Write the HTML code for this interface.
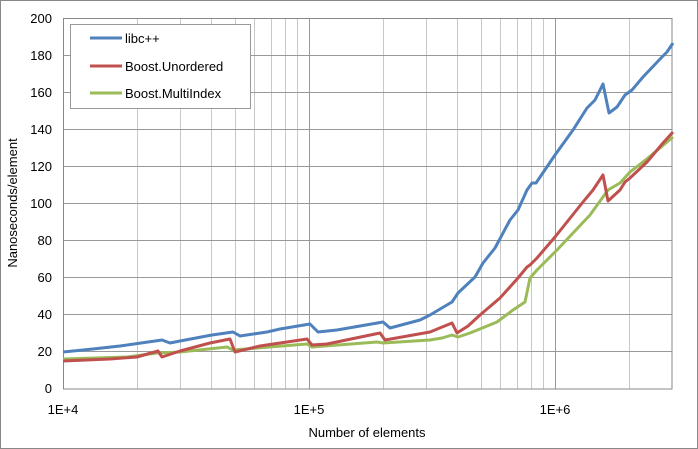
<!DOCTYPE html><html><head><style>body{margin:0;background:#fff}svg{display:block}text{font-family:"Liberation Sans",sans-serif;font-size:13px;fill:#000}</style></head><body>
<svg width="698" height="449" xmlns="http://www.w3.org/2000/svg">
<rect x="0.5" y="0.5" width="697" height="448" fill="#fff" stroke="#888"/>
<g stroke="#c8c8c8" stroke-width="1">
<path d="M137.5 18V389M180.5 18V389M211.5 18V389M235.5 18V389M254.5 18V389M271.5 18V389M285.5 18V389M297.5 18V389M383.5 18V389M426.5 18V389M457.5 18V389M481.5 18V389M500.5 18V389M517.5 18V389M531.5 18V389M543.5 18V389M629.5 18V389"/>
</g>
<g stroke="#999" stroke-width="1">
<path d="M309.5 18V389M555.5 18V389"/>
<path d="M63 18.5H672M63 55.5H672M63 92.5H672M63 129.5H672M63 166.5H672M63 203.5H672M63 240.5H672M63 277.5H672M63 314.5H672M63 351.5H672"/>
<rect x="63.5" y="18.5" width="608.5" height="370.5" fill="none" stroke="#888"/>
</g>
<g fill="none" stroke-width="3" stroke-linejoin="round">
<polyline stroke="#9bbb59" points="63,359 127,357 157,353 180,352 227,347 233,350 307,344 312,347 377,342 383,343 430,340 442,338 452,335 458,337 470,333 497,322 513,310 525,302 530,278 537,270 557,250 590,215 608,190 620,183 630,172 648,158 673,137"/>
<polyline stroke="#c0504d" points="63,361 110,359 137,357 158,351 162,357 180,351 210,343 230,339 235,352 260,346 307,339 312,345 327,344 380,333 385,340 430,332 452,323 457,333 468,326 480,315 500,298 518,278 527,267 530,265 537,258 555,237 583,202 593,190 603,175 608,201 620,190 625,182 630,178 647,162 663,143 673,132"/>
<polyline stroke="#4f81bd" points="63,352 93,349 120,346 162,340 170,343 180,341 212,335 233,332 240,336 267,332 280,329 310,324 318,332 337,330 383,322 390,328 420,320 430,315 452,302 458,293 475,277 483,263 495,248 510,220 518,210 527,190 532,183 536,183 555,155 573,130 587,108 595,100 603,84 609,113 617,107 625,95 632,90 643,77 662,57 667,52 673,43"/>
</g>
<rect x="70.5" y="24.5" width="180" height="84" fill="#fff" stroke="#999"/>
<g stroke-width="3"><line x1="90" y1="38" x2="122" y2="38" stroke="#4f81bd"/><line x1="90" y1="66" x2="122" y2="66" stroke="#c0504d"/><line x1="90" y1="93" x2="122" y2="93" stroke="#9bbb59"/></g>
<text x="125" y="43">libc++</text><text x="125" y="71">Boost.Unordered</text><text x="125" y="98">Boost.MultiIndex</text>
<g text-anchor="end">
<text x="52" y="23">200</text><text x="52" y="60">180</text><text x="52" y="97">160</text><text x="52" y="134">140</text><text x="52" y="171">120</text><text x="52" y="208">100</text><text x="52" y="245">80</text><text x="52" y="282">60</text><text x="52" y="319">40</text><text x="52" y="356">20</text><text x="52" y="393">0</text>
</g>
<g text-anchor="middle">
<text x="63" y="414">1E+4</text><text x="309" y="414">1E+5</text><text x="555" y="414">1E+6</text>
<text x="367" y="437">Number of elements</text>
<text transform="translate(17,203) rotate(-90)">Nanoseconds/element</text>
</g>
</svg></body></html>
